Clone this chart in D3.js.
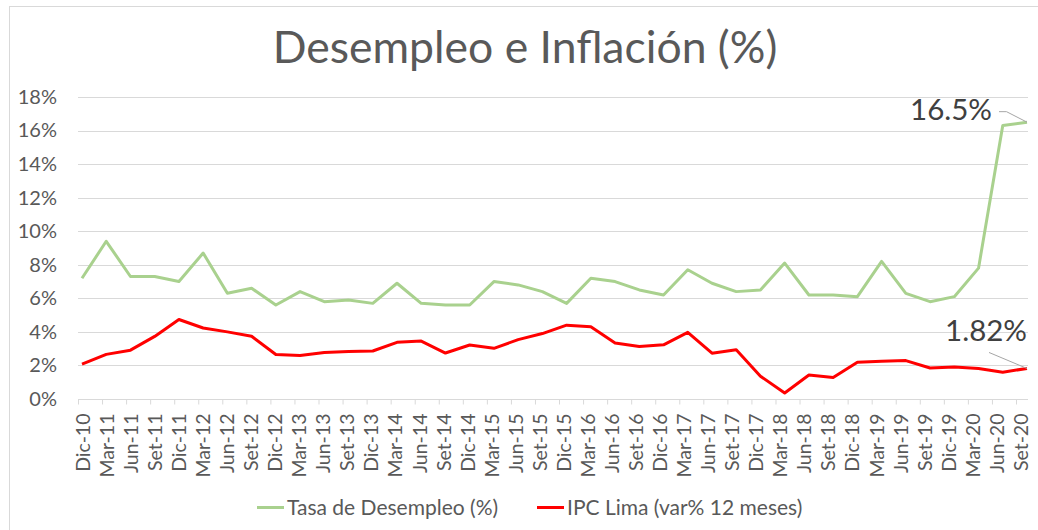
<!DOCTYPE html>
<html>
<head>
<meta charset="utf-8">
<script src="https://cdn.jsdelivr.net/npm/d3@7"></script>
<style>
	body { margin: 0; background: #fff; }
	svg { display: block; font-family: Lato, 'Open Sans', sans-serif; }
</style>
</head>
<body>
<div id="chart"></div>
<script>
// trimestres
const categories = [
	'Dic-10', 'Mar-11', 'Jun-11', 'Set-11', 'Dic-11', 'Mar-12', 'Jun-12', 'Set-12',
	'Dic-12', 'Mar-13', 'Jun-13', 'Set-13', 'Dic-13', 'Mar-14', 'Jun-14', 'Set-14',
	'Dic-14', 'Mar-15', 'Jun-15', 'Set-15', 'Dic-15', 'Mar-16', 'Jun-16', 'Set-16',
	'Dic-16', 'Mar-17', 'Jun-17', 'Set-17', 'Dic-17', 'Mar-18', 'Jun-18', 'Set-18',
	'Dic-18', 'Mar-19', 'Jun-19', 'Set-19', 'Dic-19', 'Mar-20', 'Jun-20', 'Set-20'
];

const desempleo = [
	7.2, 9.4, 7.3, 7.3, 7.0, 8.7, 6.3, 6.6,
	5.6, 6.4, 5.8, 5.9, 5.7, 6.9, 5.7, 5.6,
	5.6, 7.0, 6.8, 6.4, 5.7, 7.2, 7.0, 6.5,
	6.2, 7.7, 6.9, 6.4, 6.5, 8.1, 6.2, 6.2,
	6.1, 8.2, 6.3, 5.8, 6.1, 7.8, 16.3, 16.5
];

const ipcLima = [
	2.08, 2.66, 2.91, 3.73, 4.74, 4.23, 4.00, 3.74,
	2.65, 2.59, 2.77, 2.83, 2.86, 3.38, 3.45, 2.74,
	3.22, 3.02, 3.54, 3.90, 4.40, 4.30, 3.34, 3.13,
	3.23, 3.97, 2.73, 2.94, 1.36, 0.36, 1.43, 1.28,
	2.19, 2.25, 2.29, 1.85, 1.90, 1.82, 1.60, 1.82
];

const yTicks = [0, 2, 4, 6, 8, 10, 12, 14, 16, 18];

const seriesNames = ['Tasa de Desempleo (%)', 'IPC Lima (var% 12 meses)'];
const seriesColors = ['#A9D18E', '#FF0000'];

const width = 1038;
const height = 530;
const textColor = '#595959';
const gridColor = '#D9D9D9';

const svg = d3
	.select('#chart')
	.append('svg')
	.attr('width', width)
	.attr('height', height);

// marco del grafico
svg
	.append('rect')
	.attr('x', 9.5)
	.attr('y', 6.5)
	.attr('width', width)
	.attr('height', height)
	.attr('fill', 'none')
	.attr('stroke', gridColor);

svg
	.append('text')
	.attr('x', 525)
	.attr('y', 63)
	.attr('text-anchor', 'middle')
	.attr('fill', textColor)
	.style('font-size', '44.5px')
	.text('Desempleo e Inflación (%)');

const plotLeft = 78;
const plotRight = 1028;

const yScale = d3.scaleLinear().domain([0, 18]).range([399, 97]);

const xScale = d3.scalePoint().domain(categories).range([82, 1027]);
// las marcas del eje quedan algo desplazadas de los puntos
const xTickScale = d3.scalePoint().domain(categories).range([78, 1016]);

// grilla
svg
	.append('g')
	.selectAll('line')
	.data(yTicks)
	.enter()
	.append('line')
	.attr('x1', plotLeft)
	.attr('x2', plotRight)
	.attr('y1', (d) => Math.round(yScale(d)) + 0.5)
	.attr('y2', (d) => Math.round(yScale(d)) + 0.5)
	.attr('stroke', gridColor)
	.attr('stroke-width', 1);

const yAxis = d3
	.axisLeft(yScale)
	.tickValues(yTicks)
	.tickSize(0)
	.tickPadding(0)
	.tickFormat((d) => d + '%');

svg
	.append('g')
	.attr('transform', `translate(57,0)`)
	.call(yAxis)
	.call((g) => g.select('.domain').remove())
	.call((g) =>
		g
			.selectAll('text')
			.attr('fill', textColor)
			.style('font-size', '20px')
			.style('font-family', 'Lato, sans-serif')
	);

const xAxis = d3.axisBottom(xTickScale).tickSize(5).tickSizeOuter(0);

svg
	.append('g')
	.attr('transform', `translate(0,${Math.round(yScale(0)) + 0.5})`)
	.call(xAxis)
	.call((g) => g.select('.domain').remove())
	.call((g) => g.selectAll('.tick line').attr('stroke', gridColor))
	.call((g) =>
		g
			.selectAll('text')
			.attr('transform', 'rotate(-90)')
			.attr('x', -14)
			.attr('y', 4.5)
			.attr('dy', '0.35em')
			.attr('fill', textColor)
			.style('text-anchor', 'end')
			.style('font-size', '19.5px')
			.style('font-family', 'Lato, sans-serif')
	);

const lineGenerator = d3
	.line()
	.x((d, i) => xScale(categories[i]))
	.y((d) => yScale(d));

[desempleo, ipcLima].forEach((data, i) => {
	svg
		.append('path')
		.datum(data)
		.attr('class', `line-set-${i}`)
		.attr('fill', 'none')
		.attr('stroke', seriesColors[i])
		.attr('stroke-width', 3)
		.attr('stroke-linejoin', 'round')
		.attr('d', lineGenerator);
});

// etiquetas del ultimo dato
const last = categories.length - 1;
const labels = [
	{ value: desempleo[last], text: '16.5%', dx: -35, dy: -2, lead: [[-28, -10.5], [-20.5, -10.5]] },
	{ value: ipcLima[last], text: '1.82%', dx: 0, dy: -27, lead: [[-38, -16]] }
];

labels.forEach((l) => {
	const px = xScale(categories[last]);
	const py = yScale(l.value);
	const pts = l.lead.map((p) => [px + p[0], py + p[1]]).concat([[px, py]]);
	svg
		.append('path')
		.attr('d', d3.line()(pts))
		.attr('fill', 'none')
		.attr('stroke', '#A6A6A6')
		.attr('stroke-width', 1);
	svg
		.append('text')
		.attr('x', px + l.dx)
		.attr('y', py + l.dy)
		.attr('text-anchor', 'end')
		.attr('fill', '#404040')
		.style('font-size', '29.5px')
		.text(l.text);
});

// leyenda
const legendItems = [
	{ x: 257, width: 27 },
	{ x: 537, width: 27 }
];

legendItems.forEach((item, i) => {
	svg
		.append('line')
		.attr('x1', item.x)
		.attr('x2', item.x + item.width)
		.attr('y1', 507.5)
		.attr('y2', 507.5)
		.attr('stroke', seriesColors[i])
		.attr('stroke-width', 3);
	svg
		.append('text')
		.attr('x', item.x + item.width + 3)
		.attr('y', 507.5)
		.attr('dy', '0.35em')
		.attr('fill', textColor)
		.style('font-size', '21px')
		.text(seriesNames[i]);
});
</script>
</body>
</html>
